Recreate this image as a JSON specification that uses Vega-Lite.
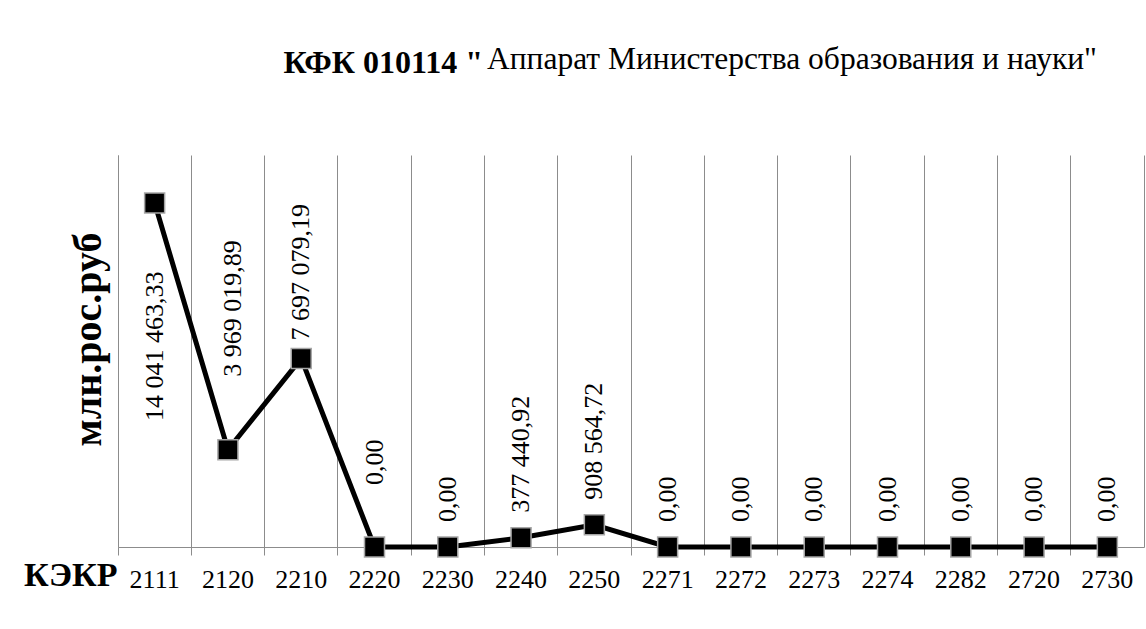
{
  "$schema": "https://vega.github.io/schema/vega-lite/v6.json",
  "width": 1026,
  "height": 392,
  "autosize": "none",
  "padding": {"left": 118, "top": 155, "right": 2, "bottom": 82},
  "background": "white",
  "config": {
    "locale": {"number": {"decimal": ",", "thousands": " ", "grouping": [3], "currency": ["", ""]}},
    "view": {"stroke": null},
    "font": "Liberation Serif"
  },
  "title": {
    "text": "Аппарат Министерства образования и науки\"",
    "anchor": "start",
    "frame": "group",
    "dx": 369,
    "dy": 54,
    "fontSize": 31.5,
    "fontWeight": "normal",
    "font": "Liberation Serif",
    "color": "black",
    "baseline": "alphabetic",
    "offset": 0
  },
  "data": {
    "values": [
      {"code": "2111", "value": 14041463.33},
      {"code": "2120", "value": 3969019.89},
      {"code": "2210", "value": 7697079.19},
      {"code": "2220", "value": 0},
      {"code": "2230", "value": 0},
      {"code": "2240", "value": 377440.92},
      {"code": "2250", "value": 908564.72},
      {"code": "2271", "value": 0},
      {"code": "2272", "value": 0},
      {"code": "2273", "value": 0},
      {"code": "2274", "value": 0},
      {"code": "2282", "value": 0},
      {"code": "2720", "value": 0},
      {"code": "2730", "value": 0}
    ]
  },
  "layer": [
    {
      "mark": {"type": "line", "color": "black", "strokeWidth": 5},
      "encoding": {
        "x": {
          "field": "code", "type": "ordinal", "sort": null,
          "scale": {"type": "band", "paddingInner": 0, "paddingOuter": 0},
          "axis": {
            "orient": "bottom",
            "bandPosition": 0,
            "grid": true, "gridColor": "#8c8c8c", "gridWidth": 1, "gridOpacity": 1,
            "domain": true, "domainColor": "#8c8c8c", "domainWidth": 1,
            "ticks": true, "tickColor": "#8c8c8c", "tickSize": 8, "tickWidth": 1,
            "labelFontSize": 26, "labelColor": "black", "labelAngle": 0, "labelPadding": 11,
            "labelFont": "Liberation Serif",
            "title": "КЭКР", "titleFontSize": 34, "titleFontWeight": "bold", "titleColor": "black",
            "titleFont": "Liberation Serif",
            "titleX": -1, "titleY": 38, "titleAlign": "right", "titleBaseline": "alphabetic", "titleAnchor": "start"
          }
        },
        "y": {
          "field": "value", "type": "quantitative",
          "scale": {"domain": [0, 16000000]},
          "axis": {
            "orient": "left",
            "domain": true, "domainColor": "#8c8c8c", "domainWidth": 1,
            "ticks": false, "labels": false, "grid": false,
            "title": "млн.рос.руб", "titleFontSize": 40, "titleFontWeight": "bold", "titleColor": "black",
            "titleFont": "Liberation Serif",
            "titleX": -18, "titleY": 184, "titleAlign": "center", "titleBaseline": "alphabetic", "titleAngle": 270
          }
        }
      }
    },
    {
      "mark": {"type": "square", "size": 400, "fill": "black", "stroke": "#a6a6a6", "strokeWidth": 1.5, "opacity": 1, "filled": true},
      "encoding": {
        "x": {
          "field": "code", "type": "ordinal", "sort": null,
          "axis": {
            "orient": "top", "domain": false, "ticks": false, "labels": false, "grid": false,
            "title": "КФК 010114 \"", "titleFontSize": 32, "titleFontWeight": "bold", "titleColor": "black",
            "titleFont": "Liberation Serif",
            "titleX": 165, "titleY": -83, "titleAlign": "left", "titleBaseline": "alphabetic", "titleAngle": 0
          }
        },
        "y": {
          "field": "value", "type": "quantitative",
          "axis": {
            "orient": "right", "domain": true, "domainColor": "#8c8c8c", "domainWidth": 1,
            "ticks": false, "labels": false, "grid": false, "title": null
          }
        }
      }
    },
    {
      "transform": [{"filter": {"field": "code", "oneOf": ["2230", "2240", "2250", "2271", "2272", "2273", "2274", "2282", "2720", "2730"]}}],
      "mark": {"type": "text", "angle": 270, "align": "left", "baseline": "middle", "dx": 25, "fontSize": 26, "font": "Liberation Serif", "color": "black"},
      "encoding": {
        "x": {"field": "code", "type": "ordinal", "sort": null, "axis": null},
        "y": {"field": "value", "type": "quantitative", "axis": null},
        "text": {"field": "value", "type": "quantitative", "format": ",.2f"}
      }
    },
    {
      "transform": [{"filter": {"field": "code", "equal": "2210"}}],
      "mark": {"type": "text", "angle": 270, "align": "left", "baseline": "middle", "dx": 18, "fontSize": 26, "font": "Liberation Serif", "color": "black"},
      "encoding": {
        "x": {"field": "code", "type": "ordinal", "sort": null, "axis": null},
        "y": {"field": "value", "type": "quantitative", "axis": null},
        "text": {"field": "value", "type": "quantitative", "format": ",.2f"}
      }
    },
    {
      "transform": [{"filter": {"field": "code", "equal": "2120"}}],
      "mark": {"type": "text", "angle": 270, "align": "left", "baseline": "middle", "dx": 73, "dy": 5, "fontSize": 26, "font": "Liberation Serif", "color": "black"},
      "encoding": {
        "x": {"field": "code", "type": "ordinal", "sort": null, "axis": null},
        "y": {"field": "value", "type": "quantitative", "axis": null},
        "text": {"field": "value", "type": "quantitative", "format": ",.2f"}
      }
    },
    {
      "transform": [{"filter": {"field": "code", "equal": "2220"}}],
      "mark": {"type": "text", "angle": 270, "align": "left", "baseline": "middle", "dx": 62, "fontSize": 26, "font": "Liberation Serif", "color": "black"},
      "encoding": {
        "x": {"field": "code", "type": "ordinal", "sort": null, "axis": null},
        "y": {"field": "value", "type": "quantitative", "axis": null},
        "text": {"field": "value", "type": "quantitative", "format": ",.2f"}
      }
    },
    {
      "transform": [{"filter": {"field": "code", "equal": "2111"}}],
      "mark": {"type": "text", "angle": 270, "align": "left", "baseline": "middle", "dx": -218, "fontSize": 26, "font": "Liberation Serif", "color": "black"},
      "encoding": {
        "x": {"field": "code", "type": "ordinal", "sort": null, "axis": null},
        "y": {"field": "value", "type": "quantitative", "axis": null},
        "text": {"field": "value", "type": "quantitative", "format": ",.2f"}
      }
    }
  ],
  "resolve": {"axis": {"x": "independent", "y": "independent"}}
}
